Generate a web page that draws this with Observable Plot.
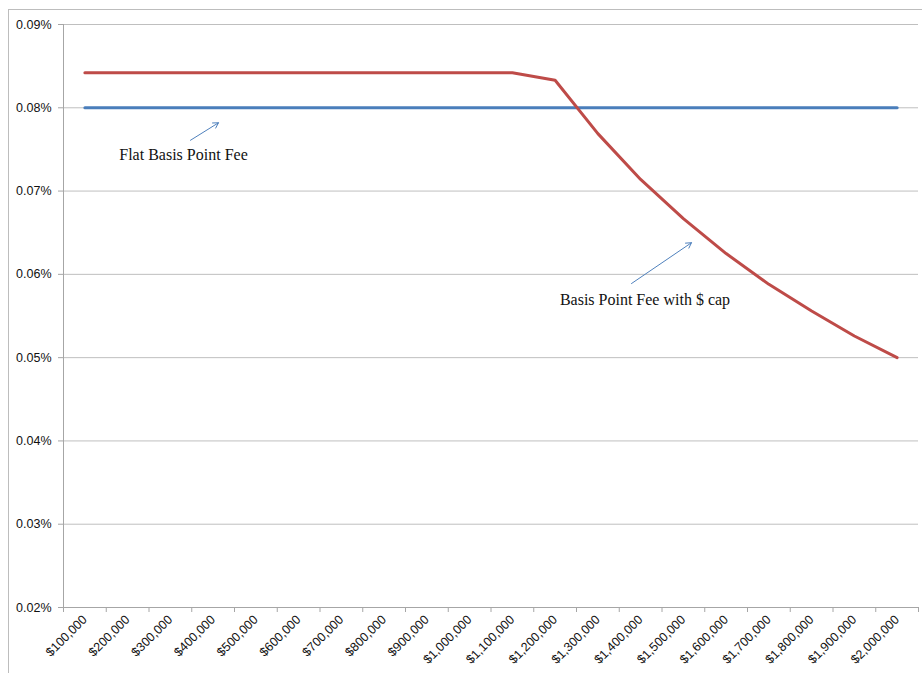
<!DOCTYPE html>
<html><head><meta charset="utf-8">
<script src="https://cdn.jsdelivr.net/npm/d3@7"></script>
<script src="https://cdn.jsdelivr.net/npm/@observablehq/plot@0.6"></script>
<style>
body{margin:0;background:#fff;}
#wrap{position:relative;width:922px;height:673px;overflow:hidden;}
#border{position:absolute;left:8px;top:9px;width:930px;height:680px;border-left:1px solid #bdbdbd;border-top:1px solid #bdbdbd;}
#chart{position:absolute;left:0;top:0;}
</style></head><body>
<div id="wrap"><div id="border"></div><div id="chart"></div></div>
<script>
const assets = [100000,200000,300000,400000,500000,600000,700000,800000,900000,1000000,1100000,1200000,1300000,1400000,1500000,1600000,1700000,1800000,1900000,2000000];
const tickLabels = ["$100,000","$200,000","$300,000","$400,000","$500,000","$600,000","$700,000","$800,000","$900,000","$1,000,000","$1,100,000","$1,200,000","$1,300,000","$1,400,000","$1,500,000","$1,600,000","$1,700,000","$1,800,000","$1,900,000","$2,000,000"];
const flatFee = [0.08,0.08,0.08,0.08,0.08,0.08,0.08,0.08,0.08,0.08,0.08,0.08,0.08,0.08,0.08,0.08,0.08,0.08,0.08,0.08];
const cappedFee = [0.0842,0.0842,0.0842,0.0842,0.0842,0.0842,0.0842,0.0842,0.0842,0.0842,0.0842,0.0833,0.0769,0.0714,0.0667,0.0625,0.0588,0.0556,0.0526,0.05];
const yTicks = [0.02,0.03,0.04,0.05,0.06,0.07,0.08,0.09];
const annotations = [
  {label:"Flat Basis Point Fee", x:330700, y:0.0744, ax1:347000, ay1:0.0761, ax2:412600, ay2:0.0782},
  {label:"Basis Point Fee with $ cap", x:1410200, y:0.0569, ax1:1378700, ay1:0.0589, ax2:1519000, ay2:0.0638}
];

const step = 100000;
const boundaries = assets.map(a => a - step/2).concat([assets[assets.length-1] + step/2]);
const flatRows = assets.map((a,i) => ({asset:a, fee:flatFee[i]}));
const capRows = assets.map((a,i) => ({asset:a, fee:cappedFee[i]}));
const axisColor = "#a6a6a6";
const sans = "Liberation Sans, Arial, sans-serif";

const chart = Plot.plot({
  width: 922, height: 673,
  marginLeft: 63, marginRight: 4, marginTop: 24, marginBottom: 66,
  style: {fontFamily: sans, fontSize: "12px", background: "transparent"},
  x: {domain: [boundaries[0], boundaries[boundaries.length-1]]},
  y: {domain: [0.02, 0.09]},
  marks: [
    Plot.ruleY(yTicks.slice(1), {stroke: "#bfbfbf", strokeWidth: 1}),
    Plot.ruleX([boundaries[0]], {stroke: axisColor}),
    Plot.ruleY([0.02], {stroke: axisColor}),
    Plot.axisY(yTicks, {tickSize: 5, tickPadding: 7, stroke: axisColor, fill: "#111", tickFormat: d => d.toFixed(2) + "%", label: null, fontSize: 12.5}),
    Plot.axisX(boundaries, {tickSize: 5, stroke: axisColor, tickFormat: () => "", label: null}),
    Plot.axisX(assets, {tickSize: 0, tickPadding: 10, tickRotate: -45, fill: "#111", tickFormat: d => tickLabels[assets.indexOf(d)], label: null, fontSize: 12.5}),
    Plot.line(flatRows, {x: "asset", y: "fee", stroke: "#4A7EBB", strokeWidth: 3}),
    Plot.line(capRows, {x: "asset", y: "fee", stroke: "#BE4B48", strokeWidth: 3}),
    Plot.arrow(annotations, {x1: "ax1", y1: "ay1", x2: "ax2", y2: "ay2", stroke: "#4F81BD", strokeWidth: 1, headLength: 9}),
    Plot.text(annotations, {x: "x", y: "y", text: "label", fontFamily: "Liberation Serif, Times New Roman, serif", fontSize: 16, fill: "#111"})
  ]
});
document.getElementById("chart").appendChild(chart);
</script>
</body></html>
